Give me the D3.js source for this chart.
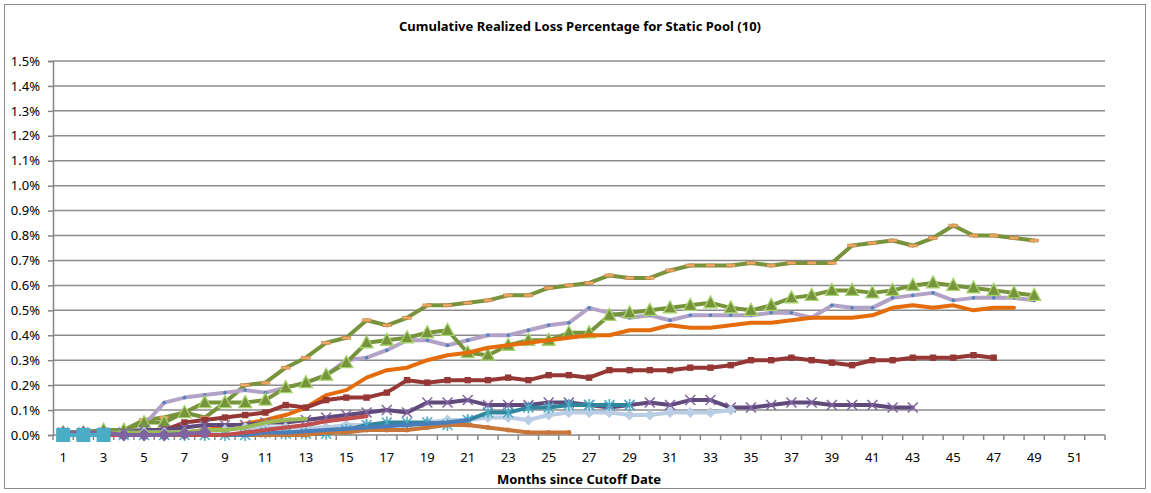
<!DOCTYPE html>
<html><head><meta charset="utf-8">
<script src="https://cdn.jsdelivr.net/npm/d3@7"></script>
<style>
body{margin:0;background:#fff}
text{font-family:"Noto Sans","Open Sans",sans-serif}
</style>
</head><body>
<svg id="chart" width="1151" height="493"></svg>
<script>
// ---- data (values in %) ----
const months = d3.range(1, 53);            // category axis 1..52
const xTickLabels = d3.range(1, 52, 2);     // 1,3,...,51
const yTickValues = [0,0.1,0.2,0.3,0.4,0.5,0.6,0.7,0.8,0.9,1.0,1.1,1.2,1.3,1.4,1.5];

const poolA = [0.01,0.01,0.02,0.02,0.06,0.07,0.09,0.07,0.13,0.20,0.21,0.27,0.31,0.37,0.39,0.46,0.44,0.47,0.52,0.52,0.53,0.54,0.56,0.56,0.59,0.60,0.61,0.64,0.63,0.63,0.66,0.68,0.68,0.68,0.69,0.68,0.69,0.69,0.69,0.76,0.77,0.78,0.76,0.79,0.84,0.80,0.80,0.79,0.78];
const poolB = [0.01,0.01,0.02,0.02,0.05,0.05,0.09,0.13,0.13,0.13,0.14,0.19,0.21,0.24,0.29,0.37,0.38,0.39,0.41,0.42,0.33,0.32,0.36,0.38,0.38,0.41,0.41,0.48,0.49,0.50,0.51,0.52,0.53,0.51,0.50,0.52,0.55,0.56,0.58,0.58,0.57,0.58,0.60,0.61,0.60,0.59,0.58,0.57,0.56];
const poolC = [0.01,0.01,0.01,0.02,0.04,0.13,0.15,0.16,0.17,0.18,0.17,0.19,0.21,0.24,0.30,0.31,0.34,0.38,0.38,0.36,0.38,0.40,0.40,0.42,0.44,0.45,0.51,0.49,0.47,0.48,0.46,0.48,0.48,0.48,0.48,0.49,0.49,0.47,0.52,0.51,0.51,0.55,0.56,0.57,0.54,0.55,0.55,0.55,0.54];
const poolD = [0.00,0.00,0.00,0.00,0.01,0.01,0.01,0.02,0.03,0.045,0.06,0.08,0.11,0.16,0.18,0.23,0.26,0.27,0.30,0.32,0.33,0.35,0.36,0.37,0.38,0.39,0.40,0.40,0.42,0.42,0.44,0.43,0.43,0.44,0.45,0.45,0.46,0.47,0.47,0.47,0.48,0.51,0.52,0.51,0.52,0.50,0.51,0.51];
const poolE = [0.00,0.00,0.00,0.00,0.01,0.02,0.05,0.06,0.07,0.08,0.09,0.12,0.11,0.14,0.15,0.15,0.17,0.22,0.21,0.22,0.22,0.22,0.23,0.22,0.24,0.24,0.23,0.26,0.26,0.26,0.26,0.27,0.27,0.28,0.30,0.30,0.31,0.30,0.29,0.28,0.30,0.30,0.31,0.31,0.31,0.32,0.31];
const poolF = [0.01,0.01,0.01,0.01,0.02,0.02,0.03,0.04,0.04,0.04,0.05,0.05,0.06,0.07,0.08,0.09,0.10,0.09,0.13,0.13,0.14,0.12,0.12,0.12,0.13,0.13,0.12,0.11,0.12,0.13,0.12,0.14,0.14,0.11,0.11,0.12,0.13,0.13,0.12,0.12,0.12,0.11,0.11];
const poolH = [0.00,0.00,0.00,0.00,0.01,0.01,0.01,0.01,0.02,0.03,0.03,0.03,0.03,0.03,0.04,0.04,0.04,0.04,0.05,0.06,0.06,0.07,0.07,0.06,0.08,0.09,0.09,0.09,0.08,0.08,0.09,0.09,0.09,0.10];
const poolG = [0.00,0.00,0.00,0.00,0.00,0.00,0.00,0.00,0.00,0.00,0.01,0.005,0.005,0.005,0.02,0.04,0.05,0.05,0.05,0.04,0.06,0.09,0.09,0.11,0.11,0.12,0.12,0.12,0.12];
const poolJ = [0.00,0.00,0.00,0.00,0.00,0.00,0.00,0.00,0.00,0.00,0.00,0.00,0.00,0.01,0.01,0.02,0.02,0.02,0.03,0.04,0.04,0.03,0.02,0.01,0.01,0.01];
const poolI = [0.00,0.00,0.00,0.00,0.00,0.00,0.00,0.00,0.00,0.00,0.01,0.01,0.015,0.02,0.025,0.03,0.035,0.04,0.045,0.05,0.06];
const poolL = [0.00,0.00,0.00,0.00,0.00,0.00,0.00,0.00,0.00,0.01,0.02,0.03,0.04,0.055,0.065,0.075];
const poolK = [0.01,0.01,0.01,0.01,0.01,0.01,0.01,0.02,0.02,0.03,0.05,0.06,0.065];
const poolM = [0.01,0.01,0.01,0.00,0.00,0.00,0.005,0.01];
const poolN = [0.00,0.00,0.00];

// ---- styles ----
const seriesList = [
  {values: poolA, color:"#77933C", marker:"dash"},
  {values: poolC, color:"#B3A2C7", marker:"dot"},
  {values: poolB, color:"#77933C", marker:"triangle"},
  {values: poolD, color:"#E46C0A", marker:"none"},
  {values: poolE, color:"#953735", marker:"square"},
  {values: poolF, color:"#604A7B", marker:"x"},
  {values: poolH, color:"#B9CDE5", marker:"diamondH"},
  {values: poolG, color:"#31859C", marker:"star"},
  {values: poolJ, color:"#C8763A", marker:"circle"},
  {values: poolI, color:"#4A7EBB", marker:"none"},
  {values: poolL, color:"#C0504D", marker:"none"},
  {values: poolK, color:"#9BBB59", marker:"none"},
  {values: poolM, color:"#8064A2", marker:"diamondM"},
  {values: poolN, color:"#4BACC6", marker:"bigsquare"}
];

const W = 1151, H = 493;
const pLeft = 53, pRight = 1105, pTop = 61, pBottom = 435;
const svg = d3.select("#chart");

svg.append("rect").attr("x",4.5).attr("y",4.5).attr("width",W-10).attr("height",H-9)
  .attr("fill","#fff").attr("stroke","#8a8a8a").attr("stroke-width",1);

const x = d3.scaleBand().domain(months).range([pLeft, pRight]).padding(0);
const y = d3.scaleLinear().domain([0, 1.5]).range([pBottom, pTop]);
const cx = m => x(m) + x.bandwidth()/2;

// gridlines
svg.append("g").selectAll("line").data(yTickValues.filter(v => v > 0)).join("line")
  .attr("x1", pLeft).attr("x2", pRight)
  .attr("y1", d => y(d)).attr("y2", d => y(d))
  .attr("stroke", "#8c8c8c").attr("stroke-width", 1.5);

// y axis
const yAxis = svg.append("g").attr("transform", `translate(${pLeft},0)`)
  .call(d3.axisLeft(y).tickValues(yTickValues).tickSize(5).tickPadding(8)
    .tickFormat(d => d.toFixed(1) + "%"));
yAxis.select(".domain").attr("stroke","#868686").attr("stroke-width",1.5);
yAxis.selectAll(".tick line").attr("stroke","#868686").attr("stroke-width",1.5);
yAxis.selectAll(".tick text").attr("font-size", 13).attr("fill","#000")
  .attr("font-family", '"Noto Sans",sans-serif');

// x axis
const xAxis = svg.append("g");
xAxis.append("line").attr("x1", pLeft).attr("x2", pRight).attr("y1", pBottom).attr("y2", pBottom)
  .attr("stroke","#868686").attr("stroke-width",1.5);
const boundaries = months.map(m => x(m)).concat([pRight]);
xAxis.selectAll("line.tk").data(boundaries).join("line").attr("class","tk")
  .attr("x1", d => d).attr("x2", d => d).attr("y1", pBottom).attr("y2", pBottom + 5)
  .attr("stroke","#868686").attr("stroke-width",1.5);
xAxis.selectAll("text").data(xTickLabels).join("text")
  .attr("x", d => cx(d)).attr("y", 462).attr("text-anchor","middle")
  .attr("font-size", 13).attr("fill","#000").text(d => d);

// series
const line = d3.line().x((d,i) => cx(months[i])).y(d => y(d));
const plot = svg.append("g");

function drawMarker(g, type, px, py, color) {
  switch (type) {
    case "dash":
      g.append("rect").attr("x", px-4.5).attr("y", py-1.5).attr("width", 9).attr("height", 3)
        .attr("fill", "#EDA663").attr("stroke", "#B98045").attr("stroke-width", 0.5); break;
    case "triangle":
      g.append("path").attr("d", `M${px},${py-7}L${px+6.5},${py+5}L${px-6.5},${py+5}Z`)
        .attr("fill", "#77933C").attr("stroke", "#A6D36B").attr("stroke-width", 1.3); break;
    case "dot":
      g.append("circle").attr("cx", px).attr("cy", py).attr("r", 1.8).attr("fill", "#4F81BD"); break;
    case "square":
      g.append("rect").attr("x", px-3.2).attr("y", py-3.2).attr("width", 6.4).attr("height", 6.4)
        .attr("fill", "#953735"); break;
    case "x":
      g.append("path").attr("d", `M${px-5},${py-5}L${px+5},${py+5}M${px-5},${py+5}L${px+5},${py-5}`)
        .attr("stroke", "#8064A2").attr("stroke-width", 1.5).attr("fill","none"); break;
    case "star":
      g.append("path").attr("d", `M${px-5},${py-5}L${px+5},${py+5}M${px-5},${py+5}L${px+5},${py-5}M${px},${py-6}L${px},${py+6}`)
        .attr("stroke", "#4BACC6").attr("stroke-width", 1.5).attr("fill","none"); break;
    case "diamondH":
      g.append("path").attr("d", `M${px},${py-5.5}L${px+5.5},${py}L${px},${py+5.5}L${px-5.5},${py}Z`)
        .attr("fill", "#B9CDE5"); break;
    case "circle":
      g.append("circle").attr("cx", px).attr("cy", py).attr("r", 2.5).attr("fill", "#C8763A"); break;
    case "diamondM":
      g.append("path").attr("d", `M${px},${py-6.5}L${px+6.5},${py}L${px},${py+6.5}L${px-6.5},${py}Z`)
        .attr("fill", "#8064A2"); break;
    case "bigsquare":
      g.append("rect").attr("x", px-7).attr("y", py-7).attr("width", 14).attr("height", 14)
        .attr("fill", "#4BACC6"); break;
  }
}

seriesList.forEach(s => {
  const g = plot.append("g");
  g.append("path").datum(s.values).attr("d", line)
    .attr("fill","none").attr("stroke", s.color).attr("stroke-width", 4)
    .attr("stroke-linejoin","round").attr("stroke-linecap","round");
  if (s.marker !== "none") {
    s.values.forEach((v, i) => drawMarker(g, s.marker, cx(months[i]), y(v), s.color));
  }
});

// titles
svg.append("text").attr("x", 580).attr("y", 31).attr("text-anchor","middle")
  .attr("font-size", 13).attr("font-weight","bold").attr("fill","#000")
  .text("Cumulative Realized Loss Percentage for Static Pool (10)");
svg.append("text").attr("x", 579).attr("y", 484).attr("text-anchor","middle")
  .attr("font-size", 13).attr("font-weight","bold").attr("fill","#000")
  .text("Months since Cutoff Date");
</script>
</body></html>
